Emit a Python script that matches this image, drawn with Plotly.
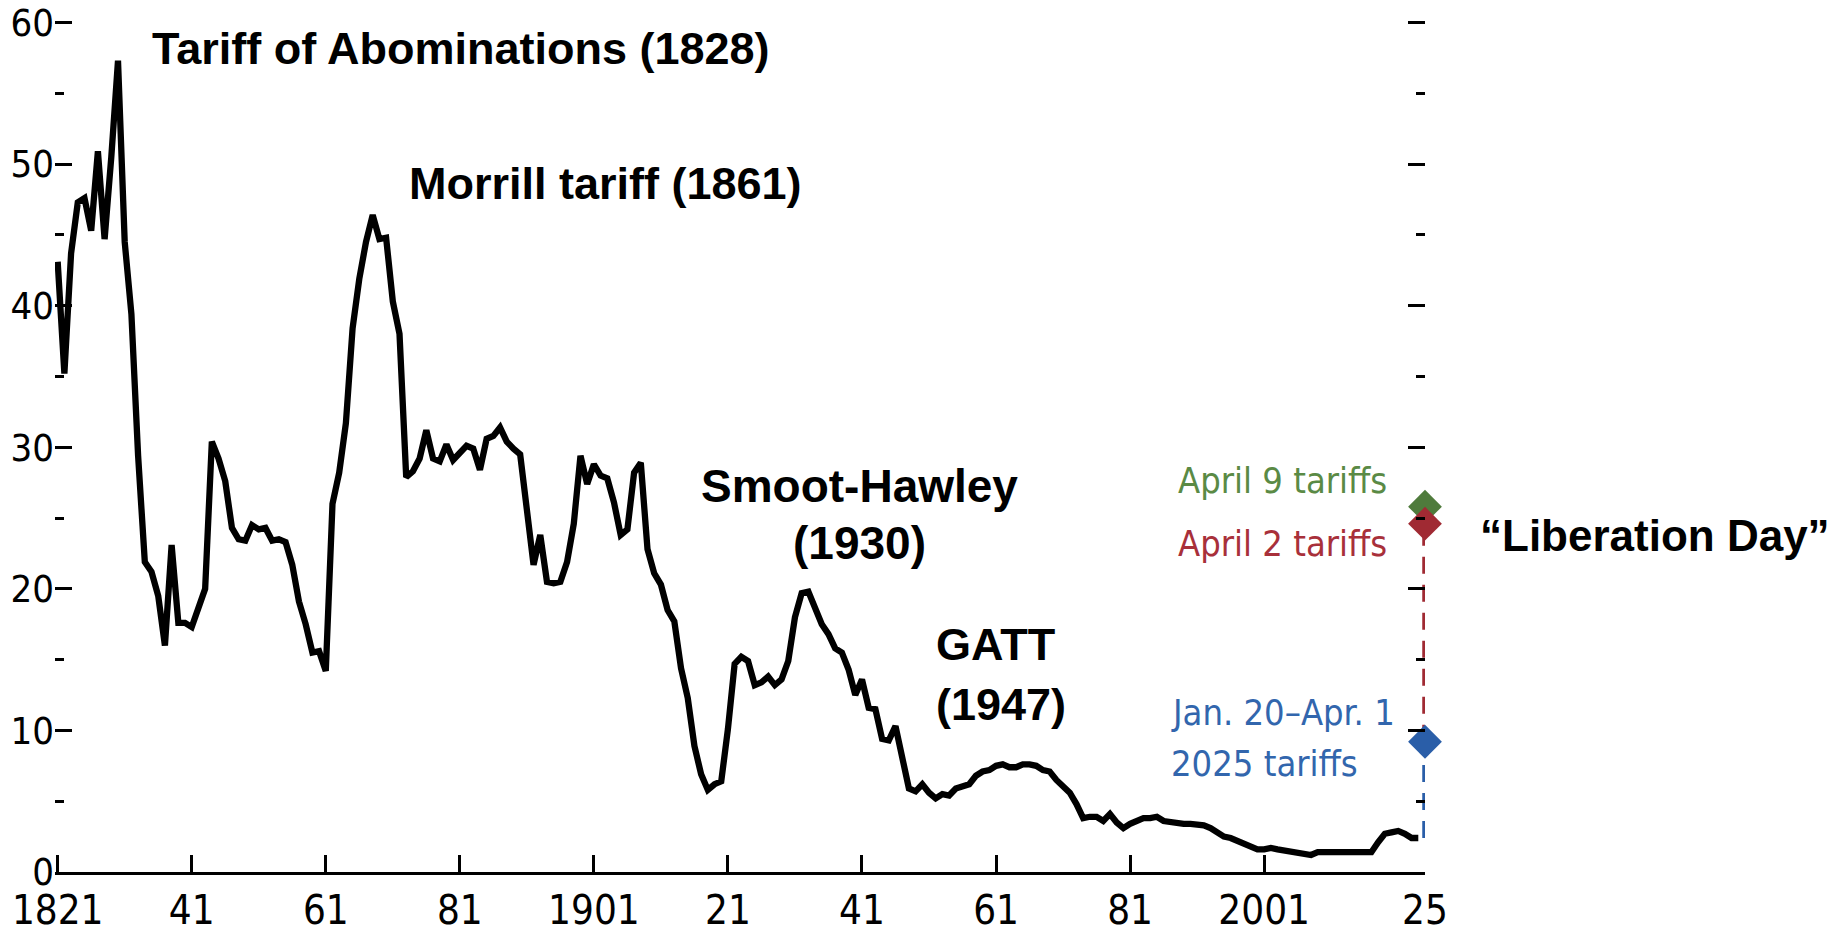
import plotly.graph_objects as go

# ---------------- data ----------------
years = list(range(1821, 2025))
tariff_rate = [
    43.1, 35.2, 43.7, 47.3, 47.6, 45.3, 50.9, 44.7, 50.5, 57.3,   # 1821-1830
    44.5, 39.4, 29.4, 21.9, 21.2, 19.5, 16.0, 23.1, 17.6, 17.6,   # 1831-1840
    17.3, 18.7, 20.0, 30.4, 29.2, 27.6, 24.3, 23.5, 23.4, 24.5,   # 1841-1850
    24.2, 24.3, 23.4, 23.5, 23.3, 21.7, 19.1, 17.5, 15.5, 15.6,   # 1851-1860
    14.2, 26.0, 28.2, 31.7, 38.4, 41.9, 44.5, 46.4, 44.7, 44.8,   # 1861-1870
    40.3, 38.0, 27.9, 28.3, 29.2, 31.2, 29.2, 29.0, 30.2, 29.1,   # 1871-1880
    29.6, 30.1, 29.9, 28.4, 30.6, 30.8, 31.4, 30.4, 29.9, 29.5,   # 1881-1890
    25.6, 21.7, 23.8, 20.5, 20.4, 20.5, 21.9, 24.6, 29.4, 27.4,   # 1891-1900
    28.8, 28.0, 27.8, 26.1, 23.8, 24.2, 28.2, 28.9, 22.8, 21.1,   # 1901-1910
    20.3, 18.5, 17.7, 14.4, 12.3, 8.9, 6.9, 5.8, 6.2, 6.4,        # 1911-1920
    10.1, 14.7, 15.2, 14.9, 13.2, 13.4, 13.8, 13.2, 13.6, 14.9,   # 1921-1930
    18.0, 19.7, 19.8, 18.6, 17.5, 16.8, 15.8, 15.5, 14.3, 12.5,   # 1931-1940
    13.6, 11.6, 11.5, 9.4, 9.3, 10.3, 7.9, 5.9, 5.7, 6.2,         # 1941-1950
    5.6, 5.2, 5.5, 5.4, 5.9, 6.0, 6.2, 6.8, 7.1, 7.2,             # 1951-1960
    7.5, 7.6, 7.4, 7.4, 7.6, 7.6, 7.5, 7.2, 7.1, 6.5,             # 1961-1970
    6.0, 5.6, 4.8, 3.8, 3.9, 3.9, 3.6, 4.1, 3.5, 3.1,             # 1971-1980
    3.4, 3.6, 3.8, 3.8, 3.9, 3.6, 3.5, 3.4, 3.4, 3.4,             # 1981-1990
    3.4, 3.3, 3.1, 2.8, 2.5, 2.4, 2.2, 2.0, 1.8, 1.6,             # 1991-2000
    1.6, 1.7, 1.6, 1.5, 1.4, 1.3, 1.3, 1.2, 1.4, 1.4,             # 2001-2010
    1.4, 1.4, 1.5, 1.5, 1.5, 1.5, 1.4, 2.1, 2.7, 2.8,             # 2011-2020
    2.9, 2.7, 2.4, 2.4,                                           # 2021-2024
]

scenario_year = 2025
jan_apr_rate = 9.2
april2_rate = 24.6
april9_rate = 25.8

xtick_vals = [1821, 1841, 1861, 1881, 1901, 1921, 1941, 1961, 1981, 2001, 2025]
xtick_text = ["1821", "41", "61", "81", "1901", "21", "41", "61", "81", "2001", "25"]
ytick_vals = [0, 10, 20, 30, 40, 50, 60]
ytick_text = ["0", "10", "20", "30", "40", "50", "60"]
yminor_vals = [5, 15, 25, 35, 45, 55]

# ---------------- styles ----------------
GREEN = "#4f7b3c"
RED = "#a02a33"
BLUE = "#2a5ea8"
GREEN_TXT = "#5a8a45"
RED_TXT = "#a8303a"
BLUE_TXT = "#3266ad"

COND = "DejaVu Sans Condensed, Liberation Sans Narrow, sans-serif"
BOLD = "Liberation Sans, Arial, sans-serif"

# window is 1836x934; the page body has an 8px default margin, so the
# figure itself is 8px smaller and all positions below are window pixels.
WIN_W, WIN_H, BODY = 1836, 934, 8
W, H = WIN_W - BODY, WIN_H - BODY
X_MIN, X_MAX = 1820.6, 2025       # a little headroom so the 1821 tick is kept
Y_MIN, Y_MAX = 0, 60.6            # a little headroom so the 60 tick is kept
PX_PER_UNIT = 850 / 60
PX_PER_YEAR = 1367 / 204
X1821, PLOT_R, PLOT_B = 58, 1425, 872
PLOT_L = X1821 - (1821 - X_MIN) * PX_PER_YEAR
PLOT_T = PLOT_B - Y_MAX * PX_PER_UNIT
ML = PLOT_L - BODY
MT = PLOT_T - BODY
MR = W - (PLOT_R - BODY)
MB = H - (PLOT_B - BODY)
PW, PH = PLOT_R - PLOT_L, PLOT_B - PLOT_T


def px(xp):
    return (xp - PLOT_L) / PW


def py(yp):
    return (PLOT_B - yp) / PH


fig = go.Figure()

fig.add_trace(go.Scatter(
    x=years, y=tariff_rate, mode="lines",
    line=dict(color="black", width=6.3),
    cliponaxis=False, hoverinfo="skip",
))

# dashed connectors at 2025
fig.add_trace(go.Scatter(
    x=[scenario_year, scenario_year], y=[tariff_rate[-1], jan_apr_rate],
    mode="lines", line=dict(color=BLUE, width=5.5, dash="17px,11px"),
    cliponaxis=False, hoverinfo="skip",
))
fig.add_trace(go.Scatter(
    x=[scenario_year, scenario_year], y=[jan_apr_rate, april2_rate],
    mode="lines", line=dict(color=RED, width=5.5, dash="17px,11px"),
    cliponaxis=False, hoverinfo="skip",
))

for val, col in [(april9_rate, GREEN), (april2_rate, RED), (jan_apr_rate, BLUE)]:
    fig.add_trace(go.Scatter(
        x=[scenario_year], y=[val], mode="markers",
        marker=dict(symbol="diamond", size=26, color=col, line=dict(width=0)),
        cliponaxis=False, hoverinfo="skip",
    ))

annotations = []


def add_text(text, xp, yp, font, size, color, xanchor="left"):
    annotations.append(dict(
        text=text, x=px(xp), y=py(yp), xref="paper", yref="paper",
        xanchor=xanchor, yanchor="middle", showarrow=False,
        font=dict(family=font, size=size, color=color),
    ))


add_text("<b>Tariff of Abominations (1828)</b>", 150, 48, BOLD, 45, "black")
add_text("<b>Morrill tariff (1861)</b>", 407, 183, BOLD, 45, "black")
add_text("<b>Smoot-Hawley</b>", 860, 486, BOLD, 46, "black", "center")
add_text("<b>(1930)</b>", 860, 543, BOLD, 46, "black", "center")
add_text("<b>GATT</b>", 934, 644, BOLD, 45, "black")
add_text("<b>(1947)</b>", 934, 704, BOLD, 45, "black")
add_text("<b>\u201cLiberation Day\u201d</b>", 1478, 535, BOLD, 44, "black")

add_text("April 9 tariffs", 1389, 480, COND, 36, GREEN_TXT, "right")
add_text("April 2 tariffs", 1389, 543, COND, 36, RED_TXT, "right")
add_text("Jan. 20\u2013Apr. 1", 1169, 712, COND, 36, BLUE_TXT, "left")
add_text("2025 tariffs", 1169, 763, COND, 36, BLUE_TXT, "left")

fig.update_layout(
    width=W, height=H,
    margin=dict(l=ML, r=MR, t=MT, b=MB, autoexpand=False),
    paper_bgcolor="white", plot_bgcolor="white",
    showlegend=False,
    annotations=annotations,
    xaxis=dict(
        range=[X_MIN, X_MAX], showgrid=False, zeroline=False,
        showline=True, linecolor="black", linewidth=3,
        ticks="inside", ticklen=17, tickwidth=3, tickcolor="black",
        tickmode="array", tickvals=xtick_vals, ticktext=xtick_text,
        tickfont=dict(family=COND, size=40, color="black"),
        ticklabelstandoff=1, ticklabeloverflow="allow",
    ),
    yaxis=dict(
        range=[Y_MIN, Y_MAX], showgrid=False, zeroline=False, showline=False,
        ticks="inside", ticklen=17, tickwidth=3, tickcolor="black",
        tickmode="array", tickvals=ytick_vals, ticktext=ytick_text,
        mirror="ticks",
        minor=dict(ticks="inside", ticklen=9, tickwidth=3, tickmode="array",
                   tickvals=yminor_vals, tickcolor="black", showgrid=False),
        tickfont=dict(family=COND, size=38, color="black"),
        ticklabelstandoff=0, ticklabeloverflow="allow",
    ),
)

fig.write_html("out.html")
